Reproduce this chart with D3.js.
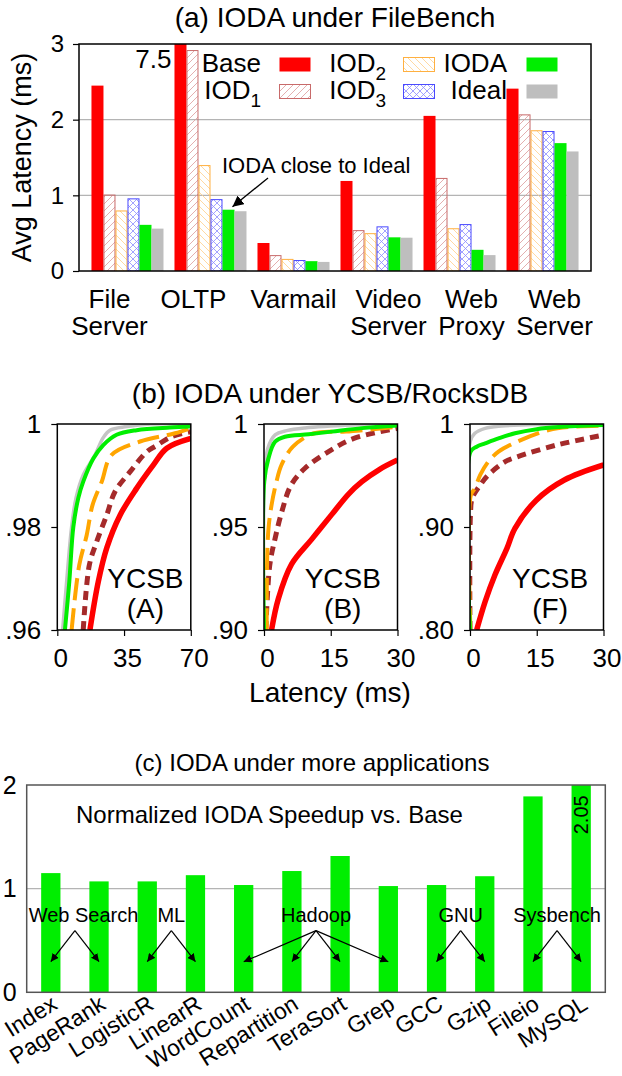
<!DOCTYPE html>
<html>
<head>
<meta charset="utf-8">
<script src="https://cdn.jsdelivr.net/npm/d3@7"></script>
<style>
  html, body { margin: 0; padding: 0; background: #fff; }
  svg { display: block; font-family: "Liberation Sans", Arial, Helvetica, sans-serif; }
</style>
</head>
<body>
<svg id="chart" width="622" height="1076"></svg>
<script>
// ---------- (a) FileBench: average latency in ms ----------
const workloads = ["File Server", "OLTP", "Varmail", "Video Server", "Web Proxy", "Web Server"];
const workloadLines = [["File", "Server"], ["OLTP"], ["Varmail"], ["Video", "Server"], ["Web", "Proxy"], ["Web", "Server"]];
const systems = ["Base", "IOD1", "IOD2", "IOD3", "IODA", "Ideal"];
const baseLat  = [2.45, 7.5, 0.37, 1.19, 2.05, 2.41];
const iod1Lat  = [1.01, 2.92, 0.21, 0.54, 1.23, 2.07];
const iod2Lat  = [0.80, 1.40, 0.16, 0.50, 0.565, 1.86];
const iod3Lat  = [0.96, 0.95, 0.145, 0.59, 0.62, 1.85];
const iodaLat  = [0.61, 0.81, 0.13, 0.445, 0.28, 1.69];
const idealLat = [0.56, 0.79, 0.12, 0.44, 0.21, 1.58];
const latencyTicks = [0, 1, 2, 3];

// ---------- (b) YCSB/RocksDB latency CDFs: [latency ms, percentile] ----------
const ycsbWorkloads = ["A", "B", "F"];
const ycsbXTicks = [[0, 35, 70], [0, 15, 30], [0, 15, 30]];
const ycsbYTicks = [[0.96, 0.98, 1], [0.90, 0.95, 1], [0.80, 0.90, 1]];

const aIdeal = [[2.8, .96], [4.9, .9694], [7.5, .980], [9.8, .9856], [13.6, .9901], [19.8, .994], [24, .9973], [27.6, .9988], [36.4, .9995], [49, 1.0], [70, 1.0]];
const aIODA  = [[4, .96], [6.3, .9694], [8.4, .980], [11, .9856], [13.6, .9888], [18.9, .9933], [24.1, .9959], [31.1, .9979], [41.6, .9988], [59, .9993], [70, .9995]];
const aIOD2  = [[7.5, .96], [11.5, .9726], [15.4, .9784], [18.5, .9843], [23.3, .9888], [28.5, .994], [43.4, .9966], [61.7, .9982], [70, .9992]];
const aIOD1  = [[13.6, .96], [16.8, .9726], [20.6, .9771], [25.9, .9823], [30.3, .9869], [38.1, .9907], [46.9, .9946], [52, .9958], [59.6, .9975], [70, .9985]];
const aBase  = [[17.1, .96], [21.5, .9694], [25.9, .9759], [32.9, .9823], [41.6, .9875], [50.3, .992], [57.4, .9953], [70, .9972]];

const bIdeal = [[0, .90], [0.1, .972], [0.83, .988], [2.5, .9947], [5.1, .9968], [9.2, .9981], [20, .9995], [30, 1.0]];
const bIODA  = [[0, .90], [0.05, .972], [1, .9833], [2.5, .9914], [4.7, .9938], [10, .995], [15.2, .9963], [22, .998], [30, .9993]];
const bIOD2  = [[0.6, .90], [0.7, .933], [1.0, .949], [1.7, .9607], [2.8, .972], [3.9, .980], [6.5, .989], [11.3, .9955], [18.4, .9963], [30, .9987]];
const bIOD1  = [[0.4, .90], [1.3, .9316], [2.5, .9445], [4, .9574], [6.1, .9704], [9.2, .9785], [14.5, .9866], [20.2, .993], [30, .9979]];
const bBase  = [[1.7, .90], [3.2, .915], [6.2, .932], [10.7, .944], [15.2, .956], [19, .966], [22, .972], [26, .978], [30, .9825]];

const fIdeal = [[0, .80], [0.05, .983], [1.1, .991], [3.4, .9958], [7.1, .998], [15, .9995], [30, 1.0]];
const fIODA  = [[0, .80], [0.1, .973], [1.5, .978], [3.4, .9812], [6.4, .986], [10.1, .991], [15, .995], [20, .997], [30, .999]];
const fIOD2  = [[0.1, .80], [0.2, .931], [1.1, .9375], [2.3, .9505], [4.1, .9634], [6.4, .9731], [9.8, .9812], [17.7, .9942], [23.1, .9974], [30, .9985]];
const fIOD1  = [[0, .80], [0.1, .9117], [0.5, .928], [2.3, .9408], [4.1, .9505], [7.9, .9634], [10.5, .968], [19.5, .9796], [30, .9893]];
const fBase  = [[1.5, .80], [3.4, .8275], [5.6, .8534], [8.3, .8793], [10.1, .8987], [14.9, .926], [21.2, .9456], [30, .9602]];

// ---------- (c) normalized IODA speedup vs. Base ----------
const apps = ["Index", "PageRank", "LogisticR", "LinearR", "WordCount", "Repartition", "TeraSort", "Grep", "GCC", "Gzip", "Fileio", "MySQL"];
const speedup = [1.15, 1.07, 1.07, 1.13, 1.035, 1.17, 1.315, 1.025, 1.035, 1.12, 1.89, 2.05];
const appGroupNames = ["Web Search", "ML", "Hadoop", "GNU", "Sysbench"];
const appGroupMembers = [["Index", "PageRank"], ["LogisticR", "LinearR"], ["WordCount", "Repartition", "TeraSort", "Grep"], ["GCC", "Gzip"], ["Fileio", "MySQL"]];
const speedupTicks = [0, 1, 2];

// ================= drawing =================
const FONT = '"Liberation Sans", Arial, Helvetica, sans-serif';
const svg = d3.select("#chart");
svg.append("rect").attr("width", 622).attr("height", 1076).attr("fill", "#fff");
const defs = svg.append("defs");

function hatch(id, dirs, color) {
  const p = defs.append("pattern").attr("id", id)
    .attr("patternUnits", "userSpaceOnUse").attr("width", 7).attr("height", 7);
  if (dirs.includes("/")) p.append("path").attr("d", "M-1,1 l2,-2 M0,7 l7,-7 M6,8 l2,-2")
    .attr("stroke", color).attr("stroke-width", 0.8).attr("fill", "none");
  if (dirs.includes("\\")) p.append("path").attr("d", "M-1,6 l2,2 M0,0 l7,7 M6,-1 l2,2")
    .attr("stroke", color).attr("stroke-width", 0.8).attr("fill", "none");
}
hatch("hIOD1", "/", "#dc9a9a");
hatch("hIOD2", "\\", "#ffcf8a");
hatch("hIOD3", "/\\", "#8c8cff");

const sysFill   = { Base: "#ff0000", IOD1: "url(#hIOD1)", IOD2: "url(#hIOD2)", IOD3: "url(#hIOD3)", IODA: "#00ee00", Ideal: "#bebebe" };
const sysStroke = { Base: "none", IOD1: "#c86a6a", IOD2: "#ffb040", IOD3: "#4a4aff", IODA: "none", Ideal: "none" };
const latBySystem = { Base: baseLat, IOD1: iod1Lat, IOD2: iod2Lat, IOD3: iod3Lat, IODA: iodaLat, Ideal: idealLat };

function txt(g, x, y, s, size, anchor) {
  return g.append("text").attr("x", x).attr("y", y).attr("font-size", size)
    .attr("font-family", FONT).attr("text-anchor", anchor || "start").attr("fill", "#000").text(s);
}
function styleAxis(g, size) {
  g.attr("font-family", FONT).attr("font-size", size);
  g.selectAll("text").attr("fill", "#000");
  g.selectAll("line").attr("stroke", "#000").attr("stroke-width", 1.2);
}

// ---------- panel (a) ----------
{
  const P = { left: 79, right: 591, top: 44, bottom: 271 };
  const g = svg.append("g");
  const y = d3.scaleLinear().domain([0, 3]).range([P.bottom, P.top]);
  const x0 = d3.scaleBand().domain(workloads).range([P.left, P.right]).paddingInner(0).paddingOuter(0.084);
  const x1 = d3.scaleBand().domain(systems).range([0, x0.bandwidth()]).paddingInner(0).paddingOuter(0.458);

  defs.append("clipPath").attr("id", "clipA").append("rect")
    .attr("x", P.left).attr("y", P.top).attr("width", P.right - P.left).attr("height", P.bottom - P.top);

  txt(g, (P.left + P.right) / 2, 27, "(a) IODA under FileBench", 28, "middle");

  g.selectAll("line.grid").data([1, 2]).join("line").attr("class", "grid")
    .attr("x1", P.left).attr("x2", P.right).attr("y1", d => y(d)).attr("y2", d => y(d))
    .attr("stroke", "#b4b4b4").attr("stroke-width", 1.2);

  const bars = g.append("g").attr("clip-path", "url(#clipA)");
  workloads.forEach((w, i) => {
    systems.forEach(s => {
      const v = latBySystem[s][i];
      const hatched = sysStroke[s] !== "none";
      bars.append("rect")
        .attr("x", x0(w) + x1(s) + (hatched ? 0.5 : 0))
        .attr("y", y(v) + (hatched ? 0.5 : 0))
        .attr("width", x1.bandwidth() - (hatched ? 1 : 0))
        .attr("height", Math.max(0, P.bottom - y(v) - (hatched ? 0.5 : 0)))
        .attr("fill", sysFill[s]).attr("stroke", sysStroke[s]).attr("stroke-width", 1);
    });
  });

  // value of the clipped OLTP Base bar
  txt(g, x0("OLTP") + x1("Base") - 3, 68, d3.format(".1f")(baseLat[1]), 26, "end");

  const ax = g.append("g").attr("transform", `translate(${P.left},0)`)
    .call(d3.axisLeft(y).tickValues(latencyTicks).tickSize(6).tickPadding(9).tickFormat(d3.format("d")));
  ax.select(".domain").remove();
  styleAxis(ax, 24);

  g.append("rect").attr("x", P.left).attr("y", P.top).attr("width", P.right - P.left).attr("height", P.bottom - P.top)
    .attr("fill", "none").attr("stroke", "#000").attr("stroke-width", 1.5);

  g.append("text").attr("transform", `translate(31,${(P.top + P.bottom) / 2}) rotate(-90)`)
    .attr("text-anchor", "middle").attr("font-size", 27).attr("font-family", FONT).text("Avg Latency (ms)");

  // category labels
  const labelShift = [-18, -17, 0, 12, 12, 12];
  workloads.forEach((w, i) => {
    const cx = x0(w) + x0.bandwidth() / 2 + labelShift[i];
    workloadLines[i].forEach((line, k) => txt(g, cx, 308 + k * 27, line, 26, "middle"));
  });

  // legend
  const legCols = [{ end: 261, sw: 279 }, { end: 386, sw: 403 }, { end: 507, sw: 526 }];
  const legRows = [72, 99];
  systems.forEach((s, k) => {
    const c = legCols[Math.floor(k / 2)], rb = legRows[k % 2];
    const t = g.append("text").attr("x", c.end).attr("y", rb).attr("text-anchor", "end")
      .attr("font-size", 26).attr("font-family", FONT);
    const m = s.match(/^IOD(\d)$/);
    if (m) {
      t.append("tspan").text("IOD");
      t.append("tspan").attr("font-size", 19).attr("dy", 8).text(m[1]);
    } else {
      t.text(s);
    }
    const hatched = sysStroke[s] !== "none";
    g.append("rect").attr("x", c.sw + 0.5).attr("y", rb - 15 + 0.5).attr("width", 31).attr("height", 14)
      .attr("fill", sysFill[s]).attr("stroke", sysStroke[s]).attr("stroke-width", hatched ? 1 : 0);
  });

  // annotation
  defs.append("marker").attr("id", "arrowA").attr("viewBox", "0 0 10 10").attr("refX", 10).attr("refY", 5)
    .attr("markerWidth", 11).attr("markerHeight", 11).attr("markerUnits", "userSpaceOnUse").attr("orient", "auto")
    .append("path").attr("d", "M0,0 L10,5 L0,10 Z").attr("fill", "#000");
  txt(g, 222, 173, "IODA close to Ideal", 22, "start");
  const tipX = x0("OLTP") + x1("IODA") + x1.bandwidth() / 2 + 4, tipY = y(iodaLat[1]) - 3;
  g.append("line").attr("x1", 268).attr("y1", 178).attr("x2", tipX).attr("y2", tipY)
    .attr("stroke", "#000").attr("stroke-width", 1.3).attr("marker-end", "url(#arrowA)");
}

// ---------- panel (b) ----------
{
  const g = svg.append("g");
  const top = 424, bottom = 630, width = 133.5;
  const lefts = [57.3, 264, 470];
  const curveSets = [
    { Ideal: aIdeal, Base: aBase, IOD1: aIOD1, IOD2: aIOD2, IODA: aIODA },
    { Ideal: bIdeal, Base: bBase, IOD1: bIOD1, IOD2: bIOD2, IODA: bIODA },
    { Ideal: fIdeal, Base: fBase, IOD1: fIOD1, IOD2: fIOD2, IODA: fIODA }
  ];
  const lineStyle = {
    Ideal: { color: "#c4c4c4", w: 3.5, dash: null },
    Base:  { color: "#ff0000", w: 5.5, dash: null },
    IOD1:  { color: "#a52a2a", w: 5, dash: "9,6" },
    IOD2:  { color: "#ffa500", w: 4, dash: "22,8" },
    IODA:  { color: "#00ee00", w: 4, dash: null }
  };
  const drawOrder = ["Ideal", "Base", "IOD1", "IOD2", "IODA"];
  const labelFrac = [0.66, 0.59, 0.60];

  txt(g, 330, 403, "(b) IODA under YCSB/RocksDB", 28, "middle");

  ycsbWorkloads.forEach((wk, i) => {
    const L = lefts[i], R = L + width;
    const xs = ycsbXTicks[i], ys = ycsbYTicks[i];
    const x = d3.scaleLinear().domain([xs[0], xs[xs.length - 1]]).range([L, R]);
    const y = d3.scaleLinear().domain([ys[0], ys[ys.length - 1]]).range([bottom, top]);
    const cid = "clipB" + i;
    defs.append("clipPath").attr("id", cid).append("rect")
      .attr("x", L).attr("y", top).attr("width", width).attr("height", bottom - top);

    const cg = g.append("g").attr("clip-path", `url(#${cid})`);
    const line = d3.line().x(d => x(d[0])).y(d => y(d[1])).curve(d3.curveCatmullRom.alpha(0.5));
    drawOrder.forEach(s => {
      const st = lineStyle[s];
      cg.append("path").datum(curveSets[i][s]).attr("d", line)
        .attr("fill", "none").attr("stroke", st.color).attr("stroke-width", st.w)
        .attr("stroke-dasharray", st.dash).attr("stroke-linejoin", "round");
    });

    const cx = L + labelFrac[i] * width;
    txt(g, cx, 588, "YCSB", 28, "middle");
    txt(g, cx, 618, `(${wk})`, 28, "middle");

    const fmt = v => (v === 1 ? "1" : d3.format(".2f")(v).replace(/^0/, ""));
    const ay = g.append("g").attr("transform", `translate(${L},0)`)
      .call(d3.axisLeft(y).tickValues(ys).tickSize(6).tickPadding(10).tickFormat(fmt));
    ay.select(".domain").remove();
    styleAxis(ay, 26);
    const ax = g.append("g").attr("transform", `translate(0,${bottom})`)
      .call(d3.axisBottom(x).tickValues(xs).tickSize(6).tickPadding(13).tickFormat(d3.format("d")));
    ax.select(".domain").remove();
    styleAxis(ax, 26);
    ax.selectAll("text").attr("dx", 3);

    g.append("rect").attr("x", L).attr("y", top).attr("width", width).attr("height", bottom - top)
      .attr("fill", "none").attr("stroke", "#000").attr("stroke-width", 1.5);
  });

  txt(g, 330, 702, "Latency (ms)", 28, "middle");
}

// ---------- panel (c) ----------
{
  const P = { left: 26.7, right: 605.3, top: 785, bottom: 992.3 };
  const g = svg.append("g");
  const y = d3.scaleLinear().domain([0, 2]).range([P.bottom, P.top]);
  const x = d3.scaleBand().domain(apps).range([P.left, P.right]).paddingInner(0.6).paddingOuter(0.3);
  const cx = a => x(a) + x.bandwidth() / 2;

  defs.append("clipPath").attr("id", "clipC").append("rect")
    .attr("x", P.left).attr("y", P.top).attr("width", P.right - P.left).attr("height", P.bottom - P.top);

  txt(g, 312, 771, "(c) IODA under more applications", 24, "middle");

  g.append("line").attr("x1", P.left).attr("x2", P.right).attr("y1", y(1)).attr("y2", y(1))
    .attr("stroke", "#b4b4b4").attr("stroke-width", 1.2);

  g.append("g").attr("clip-path", "url(#clipC)").selectAll("rect").data(apps).join("rect")
    .attr("x", d => x(d)).attr("width", x.bandwidth())
    .attr("y", (d, i) => y(speedup[i])).attr("height", (d, i) => P.bottom - y(speedup[i]))
    .attr("fill", "#00ee00");

  // value of the clipped MySQL bar
  g.append("text").attr("transform", `translate(${cx("MySQL") + 7},${y(1.9)}) rotate(-90)`)
    .attr("text-anchor", "end").attr("font-size", 20).attr("font-family", FONT)
    .text(d3.format(".2f")(speedup[11]));

  txt(g, 76, 823, "Normalized IODA Speedup vs. Base", 24, "start");

  const ay = g.append("g").attr("transform", `translate(${P.left},0)`)
    .call(d3.axisLeft(y).tickValues(speedupTicks).tickSize(0).tickPadding(10).tickFormat(d3.format("d")));
  ay.select(".domain").remove();
  styleAxis(ay, 25);

  g.append("rect").attr("x", P.left).attr("y", P.top).attr("width", P.right - P.left).attr("height", P.bottom - P.top)
    .attr("fill", "none").attr("stroke", "#555").attr("stroke-width", 1.5);

  // group labels with arrows to their members
  defs.append("marker").attr("id", "arrowC").attr("viewBox", "0 0 10 10").attr("refX", 10).attr("refY", 5)
    .attr("markerWidth", 8).attr("markerHeight", 8).attr("markerUnits", "userSpaceOnUse").attr("orient", "auto")
    .append("path").attr("d", "M0,0 L10,5 L0,10 Z").attr("fill", "#000");
  appGroupNames.forEach((name, i) => {
    const mem = appGroupMembers[i];
    const apexX = (cx(mem[0]) + cx(mem[mem.length - 1])) / 2;
    const t = txt(g, apexX, y(0.68), name, 20, "middle");
    const w = t.node().getComputedTextLength();
    if (apexX - w / 2 < P.left + 2) t.attr("x", P.left + 2 + w / 2);
    mem.forEach(a => {
      g.append("line").attr("x1", apexX).attr("y1", y(0.595)).attr("x2", cx(a)).attr("y2", y(0.295))
        .attr("stroke", "#000").attr("stroke-width", 1.2).attr("marker-end", "url(#arrowC)");
    });
  });

  // rotated application names
  apps.forEach(a => {
    g.append("text").attr("transform", `translate(${cx(a) + 8},1008) rotate(-32)`)
      .attr("text-anchor", "end").attr("font-size", 23).attr("font-family", FONT).text(a);
  });
}
</script>
</body>
</html>
